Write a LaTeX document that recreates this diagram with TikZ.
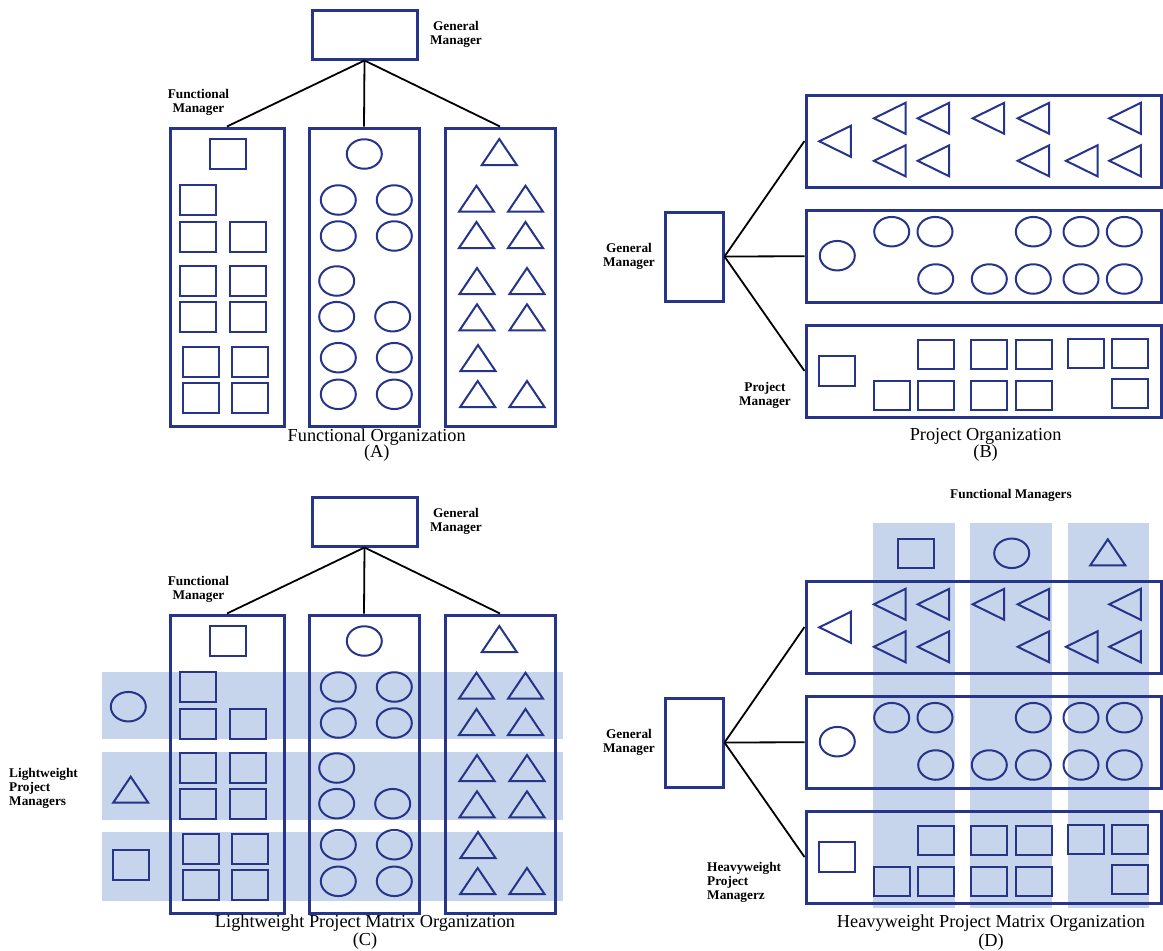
\documentclass[tikz,border=0pt]{standalone}
\usepackage{fontspec}
\setmainfont{Liberation Serif}
\definecolor{shpblue}{RGB}{38,52,138}
\definecolor{bandblue}{RGB}{198,212,236}
\tikzset{
 shp/.style={draw=shpblue, line width=2pt},
 bigbox/.style={draw=shpblue, line width=3pt, rectangle, inner sep=0pt},
 conn/.style={draw=black, line width=1.8pt},
 lbl/.style={font=\fontsize{13.3}{14}\selectfont\bfseries, inner sep=0pt, text=black},
 ttl/.style={font=\fontsize{18.3}{20}\selectfont, inner sep=0pt, text=black},
 bandfill/.style={fill=bandblue, draw=none},
}
\newcommand\ShSq[2]{\draw[shp] ({#1-18},{#2-14.75}) rectangle ({#1+18},{#2+14.75});}
\newcommand\ShCi[2]{\draw[shp] (#1,#2) ellipse [x radius=17.5, y radius=14.75];}
\newcommand\ShTU[2]{\draw[shp] ({#1-17.5},{#2+13}) -- (#1,{#2-13}) -- ({#1+17.5},{#2+13}) -- cycle;}
\newcommand\ShTL[2]{\draw[shp] (#1,#2) -- ({#1+31.5},{#2-15.5}) -- ({#1+31.5},{#2+15.5}) -- cycle;}
\newcommand\FuncPanel[1]{%
 \node[bigbox, minimum width=105pt, minimum height=49pt] (gm#1) at (364.5,34.5) {};
 \node[lbl, align=center] (gml#1) at (456,34.7) {General\\Manager};
 \node[lbl, align=center] (fml#1) at (198.5,102.7) {Functional\\Manager};
 \node[bigbox, minimum width=114pt, minimum height=298pt] (cl#1) at (227,277) {};
 \node[bigbox, minimum width=110pt, minimum height=298pt] (cm#1) at (364,277) {};
 \node[bigbox, minimum width=110pt, minimum height=298pt] (cr#1) at (500,277) {};
 \draw[conn] (gm#1.south) -- (cl#1.north);
 \draw[conn] (gm#1.south) -- (cm#1.north);
 \draw[conn] (gm#1.south) -- (cr#1.north);
 \ShSq{227.5}{154}
 \ShSq{198}{200}
 \ShSq{198}{237}\ShSq{247.5}{237}
 \ShSq{198}{281}\ShSq{247.5}{281}
 \ShSq{198}{317}\ShSq{247.5}{317}
 \ShSq{201}{362}\ShSq{250}{362}
 \ShSq{201}{398}\ShSq{250}{398}
 \ShCi{364.3}{154}
 \ShCi{338.3}{200}\ShCi{394.3}{200}
 \ShCi{338.3}{236}\ShCi{394.3}{236}
 \ShCi{336.7}{281}
 \ShCi{336.7}{316.7}\ShCi{392.7}{316.7}
 \ShCi{338.3}{357.7}\ShCi{394.3}{357.7}
 \ShCi{338.3}{394.3}\ShCi{394.3}{394.3}
 \ShTU{499.3}{152}
 \ShTU{476.5}{198.7}\ShTU{525.5}{198.7}
 \ShTU{476.5}{235}\ShTU{525.5}{235}
 \ShTU{477}{281}\ShTU{527}{281}
 \ShTU{477}{317.3}\ShTU{527}{317.3}
 \ShTU{478}{358}
 \ShTU{477.7}{394}\ShTU{527}{394}
}
\newcommand\ProjPanel[1]{%
 \node[bigbox, minimum width=58pt, minimum height=89pt] (pgm#1) at (694,256.5) {};
 \node[lbl, align=center] (pgml#1) at (629,256) {General\\Manager};
 \node[bigbox, minimum width=355pt, minimum height=92pt] (pt#1) at (983.5,141) {};
 \node[bigbox, minimum width=355pt, minimum height=92.5pt] (pm#1) at (983.5,256.25) {};
 \node[bigbox, minimum width=355pt, minimum height=92pt] (pb#1) at (983.5,371) {};
 \draw[conn] (pgm#1.east) -- (pt#1.west);
 \draw[conn] (pgm#1.east) -- (pm#1.west);
 \draw[conn] (pgm#1.east) -- (pb#1.west);
 \ShTL{819.3}{141.3}
 \ShTL{874}{118.3}\ShTL{917.7}{118.3}\ShTL{972.7}{118.3}\ShTL{1017.7}{118.3}\ShTL{1109.3}{118.3}
 \ShTL{874}{160.8}\ShTL{917.7}{160.8}\ShTL{1017.7}{160.8}\ShTL{1066}{160.8}\ShTL{1109.3}{160.8}
 \ShCi{837.3}{255.7}
 \ShCi{891.7}{231.7}\ShCi{935}{231.7}\ShCi{1033.3}{231.7}\ShCi{1081}{231.7}\ShCi{1124.3}{231.7}
 \ShCi{935.7}{279}\ShCi{989.3}{279}\ShCi{1033.3}{279}\ShCi{1081}{279}\ShCi{1124.3}{279}
 \ShSq{837}{371}
 \ShSq{936}{354.7}\ShSq{989}{354.7}\ShSq{1033.5}{354.7}\ShSq{1086}{353.3}\ShSq{1130}{353.3}
 \ShSq{892}{395.3}\ShSq{936}{395.3}\ShSq{989}{395.3}\ShSq{1033.5}{395.3}\ShSq{1130}{393.5}
}
\begin{document}
\begin{tikzpicture}[x=1pt,y=-1pt]
\useasboundingbox (0,0) rectangle (1163,951);
\fill[white] (0,0) rectangle (1163,951);
% Panel A
\FuncPanel{A}
\node[ttl] (ttlA) at (376.7,436.7) {Functional Organization};
\node[ttl] (letA) at (376.7,453.3) {(A)};
% Panel B
\ProjPanel{B}
\node[lbl, align=center] (pmlB) at (765,395) {Project\\Manager};
\node[ttl] (ttlB) at (985.6,436.7) {Project Organization};
\node[ttl] (letB) at (985.6,453.3) {(B)};
% Panel C
\fill[bandfill] (102,672) rectangle (563,739);
\fill[bandfill] (102,752) rectangle (563,820);
\fill[bandfill] (102,832) rectangle (563,901);
\begin{scope}[shift={(0,487)}]
\FuncPanel{C}
\end{scope}
\ShCi{128.3}{706.7}
\ShTU{130.7}{789.7}
\ShSq{130.8}{865}
\node[lbl, align=left, anchor=west] (lpmC) at (9,788.3) {Lightweight\\Project\\Managers};
\node[ttl] (ttlC) at (365,923.5) {Lightweight Project Matrix Organization};
\node[ttl] (letC) at (365,941.5) {(C)};
% Panel D
\fill[bandfill] (873,523) rectangle (955,908);
\fill[bandfill] (970,523) rectangle (1052,908);
\fill[bandfill] (1068,523) rectangle (1149,908);
\begin{scope}[shift={(0,486)}]
\ProjPanel{D}
\end{scope}
\ShSq{916.3}{553.7}
\ShCi{1011.7}{553.3}
\ShTU{1107.8}{552.3}
\node[lbl] (fmD) at (1011,495) {Functional Managers};
\node[lbl, align=left, anchor=west] (hpmD) at (707,882.5) {Heavyweight\\Project\\Managerz};
\node[ttl] (ttlD) at (991,923.3) {Heavyweight Project Matrix Organization};
\node[ttl] (letD) at (991,941.7) {(D)};
\end{tikzpicture}
\end{document}
